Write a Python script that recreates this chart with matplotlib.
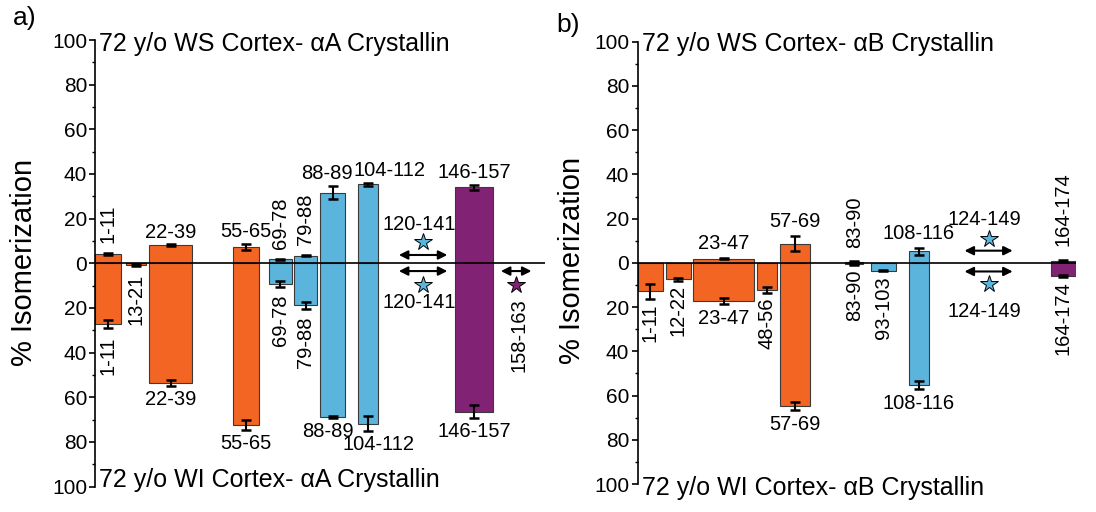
import matplotlib
matplotlib.use("Agg")
import matplotlib.pyplot as plt
from matplotlib.ticker import FuncFormatter, MultipleLocator

plt.rcParams['font.family'] = ['Liberation Sans', 'DejaVu Sans']

# ---------------- data: panel a (alpha A crystallin) ----------------
a_labels = ['1-11', '13-21', '22-39', '55-65', '69-78', '79-88', '88-89', '104-112', '146-157']
a_start = [1, 13, 22, 55, 69, 79, 89, 104, 142]
a_end = [11, 21, 39, 65, 78, 88, 99, 112, 157]
a_ws = [4.0, 0.0, 8.0, 7.4, 1.8, 3.4, 31.6, 35.3, 34.0]
a_ws_err = [0.5, 0.0, 0.4, 1.4, 0.3, 0.3, 3.0, 0.8, 1.2]
a_wi = [27.3, 0.8, 53.6, 72.5, 9.3, 18.8, 68.9, 71.8, 66.5]
a_wi_err = [1.9, 0.4, 1.5, 2.2, 1.3, 1.6, 0.5, 3.4, 3.0]
a_group = [0, 0, 0, 0, 1, 1, 1, 1, 2]
a_up_style = ['v', None, 'h', 'h', 'v', 'v', 'h', 'h', 'h']
a_dn_style = ['v', 'v', 'h', 'h', 'v', 'v', 'h', 'h', 'h']
a_nd_labels = ['120-141', '158-163']
a_nd_start = [120, 160]
a_nd_end = [139, 172]
a_nd_ws = [True, False]
a_nd_wi = [True, True]
a_nd_group = [1, 2]
a_nd_dn_style = ['h', 'v']

# ---------------- data: panel b (alpha B crystallin) ----------------
b_labels = ['1-11', '12-22', '23-47', '48-56', '57-69', '83-90', '93-103', '108-116', '164-174']
b_start = [1, 12, 23, 48, 57, 83, 93, 108, 164]
b_end = [11, 22, 47, 56, 69, 90, 103, 116, 174]
b_ws = [0.0, 0.0, 1.9, 0.0, 8.7, 0.3, 0.0, 5.2, 1.0]
b_ws_err = [0.0, 0.0, 0.2, 0.0, 3.3, 0.6, 0.0, 1.5, 0.5]
b_wi = [12.9, 7.5, 17.3, 12.4, 64.6, 0.3, 3.6, 55.2, 6.0]
b_wi_err = [3.3, 0.5, 1.2, 1.3, 1.9, 0.6, 0.3, 2.0, 0.5]
b_group = [0, 0, 0, 0, 0, 1, 1, 1, 2]
b_up_style = [None, None, 'h', None, 'h', 'v', None, 'h', 'v']
b_dn_style = ['v', 'v', 'h', 'v', 'h', 'v', 'v', 'h', 'v']
b_nd_labels = ['124-149']
b_nd_start = [130]
b_nd_end = [149]
b_nd_ws = [True]
b_nd_wi = [True]
b_nd_group = [1]
b_nd_dn_style = ['h']

colors = ['#F26522', '#5BB4DB', '#812275']

# label nudges (layout only, in residue units)
a_up_dx = {'88-89': -2.2, '104-112': 8.5}
a_dn_dx = {'88-89': -2.0, '104-112': 4.2}

W, H = 1096, 512
fig = plt.figure(figsize=(W / 100, H / 100), dpi=100)


def px_axes(left, right, top, bottom):
    return fig.add_axes([left / W, 1 - bottom / H, (right - left) / W, (bottom - top) / H])


def draw_panel(ax, xmax, labels, start, end, ws, ws_err, wi, wi_err, group,
               up_style, dn_style, nd_labels, nd_start, nd_end, nd_ws, nd_wi,
               nd_group, nd_dn_style, gaps, nd_pos, ws_title, wi_title, title_y,
               up_dx=None, dn_dx=None):
    up_dx = up_dx or {}
    dn_dx = dn_dx or {}
    ax.set_xlim(1, xmax)
    ax.set_ylim(-100, 100)
    for s in ['top', 'right', 'bottom']:
        ax.spines[s].set_visible(False)
    ax.spines['left'].set_linewidth(1.2)
    ax.set_xticks([])
    ax.yaxis.set_major_locator(MultipleLocator(20))
    ax.yaxis.set_minor_locator(MultipleLocator(10))
    ax.yaxis.set_major_formatter(FuncFormatter(lambda v, p: f"{abs(v):.0f}"))
    ax.tick_params(axis='y', which='major', length=4, width=1.2, labelsize=15, pad=2)
    ax.tick_params(axis='y', which='minor', length=2.5, width=1.0)
    ax.axhline(0, color='black', lw=1.2, zorder=4)

    widths = [e - s for s, e in zip(start, end)]
    centers = [s + w / 2 for s, w in zip(start, widths)]
    cols = [colors[g] for g in group]
    ax.bar(start, ws, width=widths, align='edge', color=cols, edgecolor='#3a3a3a',
           linewidth=0.8, zorder=2)
    ax.bar(start, [-v for v in wi], width=widths, align='edge', color=cols,
           edgecolor='#3a3a3a', linewidth=0.8, zorder=2)
    for c, v, e in zip(centers, ws, ws_err):
        if v > 0:
            ax.errorbar(c, v, yerr=e, fmt='none', ecolor='black', elinewidth=1.5,
                        capsize=3.5, capthick=1.8, zorder=3)
    for c, v, e in zip(centers, wi, wi_err):
        if v > 0:
            ax.errorbar(c, -v, yerr=e, fmt='none', ecolor='black', elinewidth=1.5,
                        capsize=3.5, capthick=1.8, zorder=3)

    g_hu, g_hd, g_vu, g_vd = gaps
    fs = 14.5
    for lab, c, v, e, st in zip(labels, centers, ws, ws_err, up_style):
        cx = c + up_dx.get(lab, 0)
        if st == 'h':
            ax.text(cx, v + e + g_hu, lab, ha='center', va='center', fontsize=fs)
        elif st == 'v':
            ax.text(cx, v + e + g_vu, lab, ha='center', va='bottom', rotation=90, fontsize=fs)
    for lab, c, v, e, st in zip(labels, centers, wi, wi_err, dn_style):
        cx = c + dn_dx.get(lab, 0)
        if st == 'h':
            ax.text(cx, -(v + e + g_hd), lab, ha='center', va='center', fontsize=fs)
        elif st == 'v':
            ax.text(cx, -(v + e + g_vd), lab, ha='center', va='top', rotation=90, fontsize=fs)

    arrow_y, star_y, lab_y = nd_pos
    for lab, s, e, up, dn, g, dst in zip(nd_labels, nd_start, nd_end, nd_ws, nd_wi,
                                         nd_group, nd_dn_style):
        c = (s + e) / 2
        for sign, flag in [(1, up), (-1, dn)]:
            if not flag:
                continue
            ay = arrow_y[0] if sign > 0 else arrow_y[1]
            sy = star_y[0] if sign > 0 else star_y[1]
            ly = lab_y[0] if sign > 0 else lab_y[1]
            ax.annotate('', xy=(e, ay), xytext=(s, ay),
                        arrowprops=dict(arrowstyle='<|-|>', color='black', lw=1.5,
                                        mutation_scale=13, shrinkA=0, shrinkB=0))
            ax.plot(c, sy, marker='*', markersize=13, color=colors[g],
                    markeredgecolor='black', markeredgewidth=0.7, zorder=5)
            if sign > 0 or dst == 'h':
                ax.text(c - 1.5, ly, lab, ha='center', va='center', fontsize=fs)
            else:
                ax.text(c + 1, ly + 2, lab, ha='center', va='top', rotation=90, fontsize=fs)

    ax.text(2.5, title_y[0], ws_title, ha='left', va='center', fontsize=18)
    ax.text(2.5, title_y[1], wi_title, ha='left', va='center', fontsize=18)


ax_a = px_axes(95.4, 545, 40, 486.5)
draw_panel(ax_a, 177.3, a_labels, a_start, a_end, a_ws, a_ws_err, a_wi, a_wi_err,
           a_group, a_up_style, a_dn_style, a_nd_labels, a_nd_start, a_nd_end,
           a_nd_ws, a_nd_wi, a_nd_group, a_nd_dn_style,
           gaps=(5.5, 6.0, 4.5, 3.5),
           nd_pos=((3.7, -3.5), (9.4, -9.8), (17.4, -17.6)),
           ws_title='72 y/o WS Cortex- \u03b1A Crystallin',
           wi_title='72 y/o WI Cortex- \u03b1A Crystallin', title_y=(98.4, -97),
           up_dx=a_up_dx, dn_dx=a_dn_dx)

ax_b = px_axes(637.7, 1076, 41.7, 484)
draw_panel(ax_b, 174, b_labels, b_start, b_end, b_ws, b_ws_err, b_wi, b_wi_err,
           b_group, b_up_style, b_dn_style, b_nd_labels, b_nd_start, b_nd_end,
           b_nd_ws, b_nd_wi, b_nd_group, b_nd_dn_style,
           gaps=(6.5, 6.5, 6.0, 2.0),
           nd_pos=((5.5, -3.9), (10.8, -9.5), (19.8, -22.0)),
           ws_title='72 y/o WS Cortex- \u03b1B Crystallin',
           wi_title='72 y/o WI Cortex- \u03b1B Crystallin', title_y=(99, -102))

fig.text(24.5 / W, 1 - 262 / H, '% Isomerization', rotation=90, ha='center', va='center', fontsize=21)
fig.text(572 / W, 1 - 260 / H, '% Isomerization', rotation=90, ha='center', va='center', fontsize=21)
fig.text(25 / W, 1 - 18 / H, 'a)', ha='center', va='center', fontsize=19)
fig.text(568 / W, 1 - 25 / H, 'b)', ha='center', va='center', fontsize=19)

fig.savefig('out.png', dpi=100)
